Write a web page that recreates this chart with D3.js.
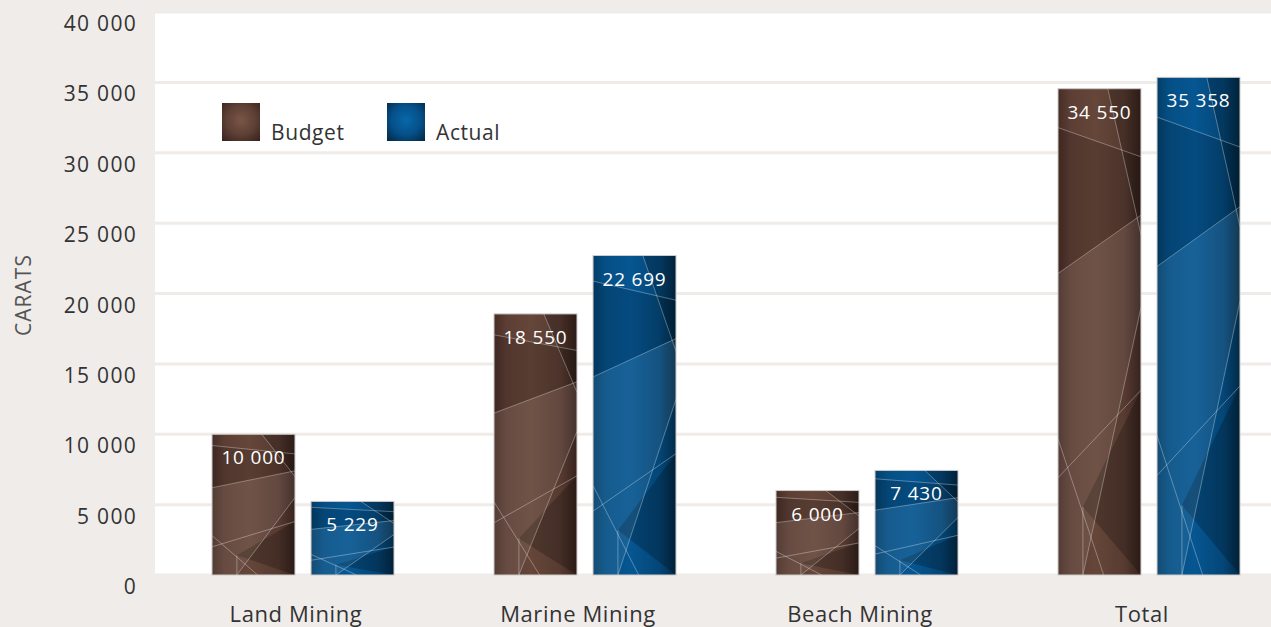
<!DOCTYPE html>
<html><head><meta charset="utf-8">
<script src="https://cdn.jsdelivr.net/npm/d3@7"></script>
<style>
html,body{margin:0;padding:0;background:#f0ecea;}
svg{display:block;}
text{font-family:"Open Sans",sans-serif;}
</style></head>
<body><svg id="c" width="1271" height="627"></svg>
<script>
const categories = ["Land Mining","Marine Mining","Beach Mining","Total"];
const seriesNames = ["Budget","Actual"];
const budget = [10000, 18550, 6000, 34550];
const actual = [5229, 22699, 7430, 35358];
const yTicks = [0,5000,10000,15000,20000,25000,30000,35000,40000];
const yTitle = "CARATS";

const W = 1271, H = 627;
const m = {left:155, top:12, bottom:52};
const svg = d3.select("#c");
const defs = svg.append("defs");

const pal = {
  Budget:{stops:["#462e26","#5c3e34","#654639","#573b31","#37231d"], light:"#7a5547", mid:"#5e4035", dark:"#3a241e"},
  Actual:{stops:["#033e69","#054f85","#065692","#044677","#022b48"], light:"#0868a8", mid:"#05508a", dark:"#022b48"}
};
Object.entries(pal).forEach(([k,c])=>{
  const g = defs.append("linearGradient").attr("id","g"+k).attr("x1","0").attr("x2","1").attr("y1","0").attr("y2","0");
  [0,0.15,0.45,0.8,1].forEach((o,i)=>g.append("stop").attr("offset",o).attr("stop-color",c.stops[i]));
  const r = defs.append("radialGradient").attr("id","r"+k).attr("cx","0.5").attr("cy","0.45").attr("r","0.7");
  r.append("stop").attr("offset",0).attr("stop-color",c.light);
  r.append("stop").attr("offset",0.55).attr("stop-color",c.mid);
  r.append("stop").attr("offset",1).attr("stop-color",c.dark);
});

svg.append("rect").attr("width",W).attr("height",H).attr("fill","#f0ecea");
svg.append("rect").attr("x",m.left).attr("y",m.top).attr("width",W-m.left).attr("height",H-m.bottom-m.top+2).attr("fill","#ffffff");

const y = d3.scaleLinear().domain([0,40000]).range([H-m.bottom, m.top]);
const x = d3.scaleBand().domain(categories).range([m.left, m.left+282*4]).padding(0);
const xi = d3.scaleBand().domain(seriesNames).range([-84, 98]).paddingInner(0.162).paddingOuter(0);

const fmt = v => d3.format(",")(v).replace(/,/g," ");

svg.append("g").selectAll("line").data(yTicks).join("line")
  .attr("x1",m.left).attr("x2",W).attr("y1",d=>y(d)).attr("y2",d=>y(d))
  .attr("stroke","#efebe8").attr("stroke-width",3);
svg.append("rect").attr("x",m.left).attr("y",y(0)).attr("width",W-m.left).attr("height",H-y(0)).attr("fill","#f0ecea");

svg.append("g").selectAll("text").data(yTicks).join("text")
  .attr("x",137).attr("y",d=>y(d)+19).attr("text-anchor","end")
  .attr("font-size",21).attr("letter-spacing","1.3px").attr("fill","#333")
  .text(fmt);

svg.append("text").attr("transform","translate(31,295) rotate(-90)").attr("text-anchor","middle")
  .attr("font-size",21).attr("letter-spacing","1px").attr("fill","#555").text(yTitle);

svg.append("g").selectAll("text").data(categories).join("text")
  .attr("x",d=>x(d)+x.bandwidth()/2).attr("y",622).attr("text-anchor","middle")
  .attr("font-size",22).attr("letter-spacing","0.6px").attr("fill","#333").text(d=>d);

// decorative facet texture (fractions of each bar box)
const facetLines = [
  [0,0.08,1,0.14],[0,0.38,1,0.26],[0.3,1,1,0.45],[0,0.8,1,0.62],[0,0.72,0.55,1],
  [0.3,0.86,0.3,1],[0.6,0,1,0.3]
];
const facetTris = [
  {p:[[0.3,0.86],[1,0.62],[1,1]], f:"#000", o:0.22},
  {p:[[0,0.38],[1,0.26],[1,0.14],[0,0.08]], f:"#000", o:0.12},
  {p:[[0,0.38],[1,0.26],[1,0.45],[0.3,1],[0,1]], f:"#fff", o:0.07},
  {p:[[0.6,0],[1,0.3],[1,0]], f:"#000", o:0.2}
];

const data = [];
categories.forEach((c,i)=>{
  data.push({cat:c, s:"Budget", v:budget[i]});
  data.push({cat:c, s:"Actual", v:actual[i]});
});

const bars = svg.append("g").selectAll("g").data(data).join("g")
  .attr("transform",d=>`translate(${x(d.cat)+x.bandwidth()/2+xi(d.s)},${y(d.v)})`);
bars.append("rect").attr("width",xi.bandwidth()).attr("height",d=>y(0)-y(d.v))
  .attr("fill",d=>`url(#g${d.s})`);
bars.each(function(d){
  const g = d3.select(this), w = xi.bandwidth(), h = y(0)-y(d.v);
  facetTris.forEach(t=>{
    g.append("polygon").attr("points",t.p.map(p=>[p[0]*w,p[1]*h].join(",")).join(" "))
      .attr("fill",t.f).attr("opacity",t.o);
  });
  facetLines.forEach(l=>{
    g.append("line").attr("x1",l[0]*w).attr("y1",l[1]*h).attr("x2",l[2]*w).attr("y2",l[3]*h)
      .attr("stroke","#ffffff").attr("stroke-opacity",0.4).attr("stroke-width",0.8);
  });
});
bars.append("rect").attr("width",xi.bandwidth()).attr("height",d=>y(0)-y(d.v))
  .attr("fill","none").attr("stroke","#cfcbc9").attr("stroke-width",1);
bars.append("text").attr("x",xi.bandwidth()/2).attr("y",30).attr("text-anchor","middle")
  .attr("font-size",19).attr("font-weight",500).attr("letter-spacing","0.8px").attr("fill","#ffffff").text(d=>fmt(d.v));

const leg = svg.append("g").selectAll("g").data(seriesNames).join("g")
  .attr("transform",(d,i)=>`translate(${222+i*165},103)`);
leg.append("rect").attr("width",38).attr("height",38).attr("fill",d=>`url(#r${d})`);
leg.append("text").attr("x",49).attr("y",37).attr("font-size",21).attr("letter-spacing","0.6px").attr("fill","#333").text(d=>d);
</script></body></html>
